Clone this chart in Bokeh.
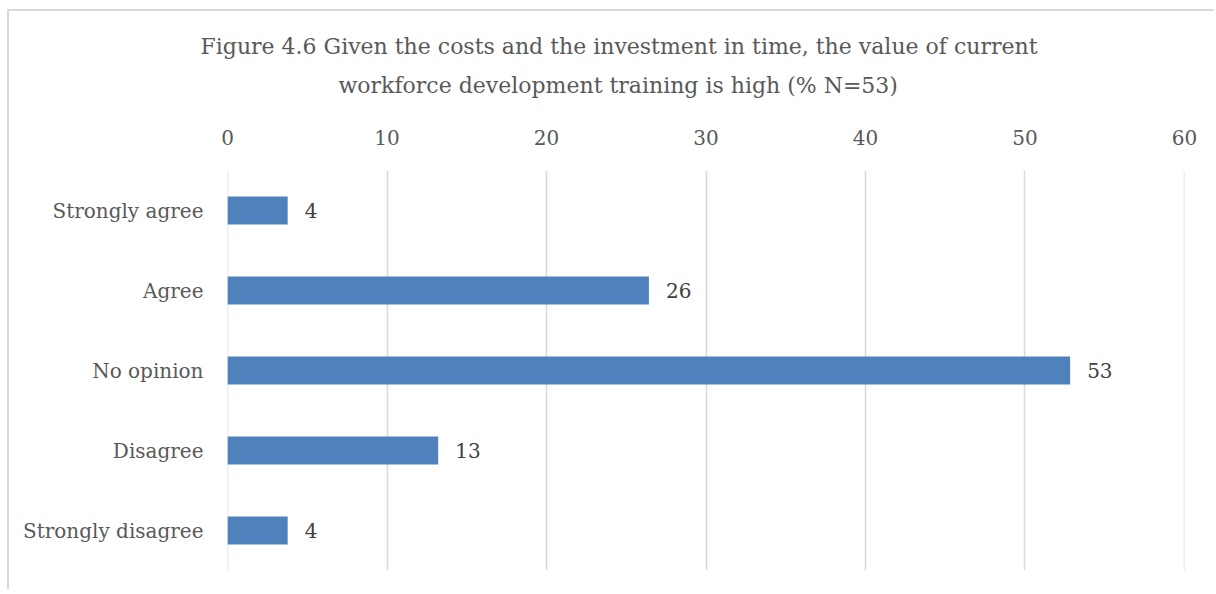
from bokeh.plotting import figure
from bokeh.models import Range1d, FixedTicker, ColumnDataSource, Title
from bokeh.core.properties import value
from bokeh.embed import file_html
from bokeh.resources import INLINE

categories = ["Strongly agree", "Agree", "No opinion", "Disagree", "Strongly disagree"]
percentages = [3.77, 26.42, 52.83, 13.21, 3.77]
value_labels = ["4", "26", "53", "13", "4"]
x_ticks = [0, 10, 20, 30, 40, 50, 60]
title_lines = ["Figure 4.6 Given the costs and the investment in time, the value of current",
               "workforce development training is high (% N=53)"]

FONT = "DejaVu Serif"
GREY = "#595959"

src = ColumnDataSource(dict(cat=categories, v=percentages, lab=value_labels))

p = figure(width=1207, height=580, y_range=list(reversed(categories)),
           x_range=Range1d(-0.001, 60.001), x_axis_location="above",
           output_backend="svg", toolbar_location=None,
           min_border_left=218, min_border_right=32, min_border_top=159, min_border_bottom=21)
p.styles = {"margin-left": "7px", "margin-top": "9px",
            "border-style": "solid none none solid", "border-width": "2px",
            "border-color": "#d9d9d9"}

p.outline_line_color = None
p.background_fill_color = "white"
p.border_fill_color = "white"

p.hbar(y="cat", right="v", left=0, height=0.35, source=src,
       fill_color="#4f81bd", line_color=None)
p.text(x="v", y="cat", text="lab", source=src, x_offset=17,
       text_baseline="middle", text_align="left",
       text_font=value(FONT), text_font_size="20px", text_color="#404040")

# spacer between the tick labels and the title lines
p.add_layout(Title(text=" ", standoff=26, text_font_size="1px"), "above")
p.add_layout(Title(text=title_lines[1], align="left", offset=111, standoff=0,
                   text_font=FONT, text_font_size="22px", text_font_style="normal",
                   text_color=GREY), "above")
p.title.text = title_lines[0]
p.title.align = "left"
p.title.offset = -27
p.title.standoff = 24
p.title.text_font = FONT
p.title.text_font_size = "22px"
p.title.text_font_style = "normal"
p.title.text_color = GREY

xa = p.xaxis[0]
xa.ticker = FixedTicker(ticks=x_ticks)
xa.axis_line_color = None
xa.major_tick_line_color = None
xa.minor_tick_line_color = None
xa.major_label_text_font = FONT
xa.major_label_text_font_size = "20px"
xa.major_label_text_color = GREY
xa.major_label_standoff = 20

ya = p.yaxis[0]
ya.axis_line_color = None
ya.major_tick_line_color = None
ya.major_label_text_font = FONT
ya.major_label_text_font_size = "20px"
ya.major_label_text_color = GREY
ya.major_label_standoff = 18

p.xgrid.grid_line_color = "#d9d9d9"
p.xgrid.grid_line_width = 1.5
p.ygrid.grid_line_color = None

open("out.html", "w").write(file_html(p, INLINE))
